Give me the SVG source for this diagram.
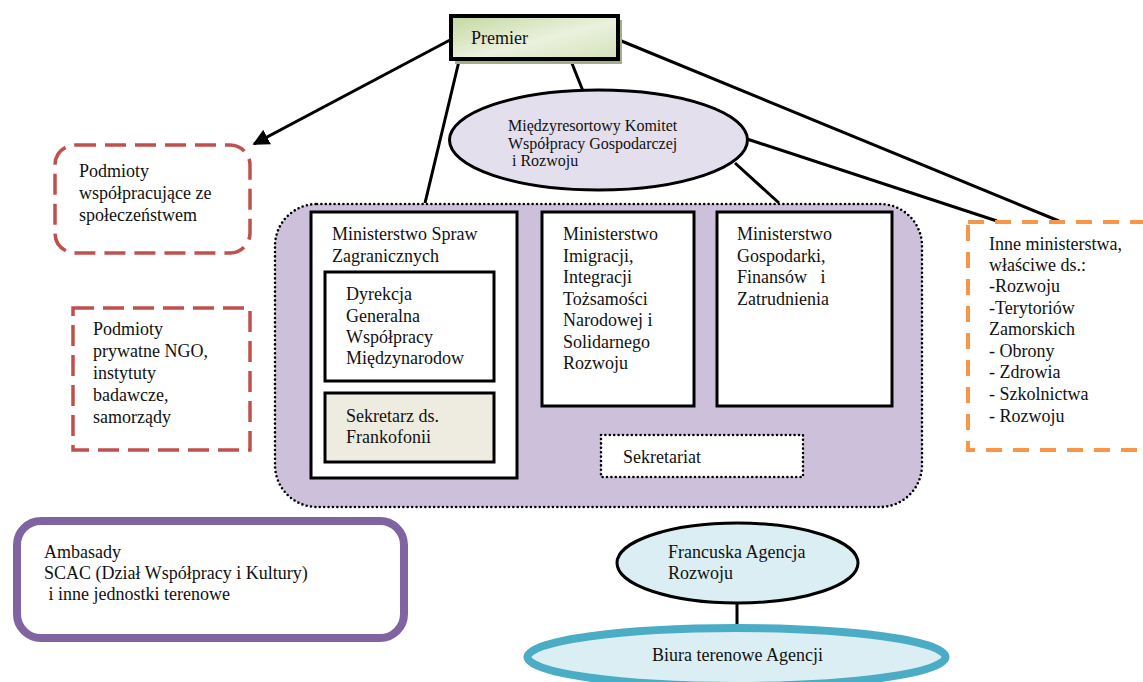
<svg xmlns="http://www.w3.org/2000/svg" width="1143" height="682" viewBox="0 0 1143 682">
<style>
text{font-family:"Liberation Serif","Times New Roman",serif;font-size:18px;fill:#111}
.sm{font-size:16px}
.conn line{stroke:#000;stroke-width:3;fill:none}
.box{fill:#fff;stroke:#000;stroke-width:3}
.red{fill:#fff;stroke:#c0504d;stroke-width:3.5;stroke-dasharray:21 9}
.dot{stroke:#000;stroke-width:2.6;stroke-dasharray:0 4.4;stroke-linecap:round}
</style>
<defs>
<linearGradient id="pg" x1="0" y1="0" x2="1" y2="1">
<stop offset="0" stop-color="#c4d89f"/>
<stop offset="0.55" stop-color="#ebf1de"/>
<stop offset="1" stop-color="#d3e2b8"/>
</linearGradient>
<marker id="arr" viewBox="0 0 10 10" refX="9" refY="5" markerWidth="5.5" markerHeight="5.5" orient="auto" markerUnits="strokeWidth">
<path d="M0,0 L10,5 L0,10 z" fill="#000"/>
</marker>
</defs>

<g id="purple-group">
<rect x="275" y="204" width="647" height="303" rx="42" fill="#ccc0da" class="dot"/>
</g>

<g class="conn" id="connectors">
<line x1="450" y1="40" x2="254" y2="144" marker-end="url(#arr)"/>
<line x1="459" y1="61" x2="425" y2="203"/>
<line x1="571" y1="61" x2="583" y2="91"/>
<line x1="619" y1="40" x2="1059" y2="221"/>
<line x1="747" y1="139" x2="997" y2="221"/>
<line x1="735" y1="163" x2="779" y2="203"/>
<line x1="737" y1="604" x2="737" y2="628"/>
</g>

<g id="premier">
<rect x="455" y="20" width="167" height="44" fill="#a3ad88"/>
<rect x="451" y="16" width="167" height="43" fill="url(#pg)" stroke="#000" stroke-width="4"/>
<text x="471" y="44">Premier</text>
</g>

<g id="komitet">
<ellipse cx="598.5" cy="140" rx="149" ry="50" fill="#e4dfec" stroke="#000" stroke-width="3"/>
<text class="sm" x="508" y="131">Międzyresortowy Komitet</text>
<text class="sm" x="508" y="149">Współpracy Gospodarczej</text>
<text class="sm" x="508" y="166" xml:space="preserve"> i Rozwoju</text>
</g>

<g id="podmioty-spol">
<rect x="55" y="145" width="195" height="108" rx="20" class="red"/>
<text x="79" y="177">Podmioty</text>
<text x="79" y="199">współpracujące ze</text>
<text x="79" y="221">społeczeństwem</text>
</g>

<g id="podmioty-ngo">
<rect x="73" y="308" width="177" height="142" class="red"/>
<text x="93" y="335">Podmioty</text>
<text x="93" y="357">prywatne NGO,</text>
<text x="93" y="379">instytuty</text>
<text x="93" y="401">badawcze,</text>
<text x="93" y="423">samorządy</text>
</g>

<g id="msz">
<rect x="311" y="212" width="206" height="266" class="box"/>
<text x="332" y="240">Ministerstwo Spraw</text>
<text x="332" y="262">Zagranicznych</text>
</g>

<g id="dyrekcja">
<rect x="325" y="272" width="169" height="109" class="box"/>
<text x="346" y="300">Dyrekcja</text>
<text x="346" y="322">Generalna</text>
<text x="346" y="343">Współpracy</text>
<text x="346" y="364">Międzynarodow</text>
</g>

<g id="sekretarz">
<rect x="325" y="393" width="169" height="69" fill="#eeece1" stroke="#000" stroke-width="3"/>
<text x="346" y="422">Sekretarz ds.</text>
<text x="346" y="443">Frankofonii</text>
</g>

<g id="imigracji">
<rect x="542" y="212" width="152" height="194" class="box"/>
<text x="563" y="240">Ministerstwo</text>
<text x="563" y="262">Imigracji,</text>
<text x="563" y="283">Integracji</text>
<text x="563" y="305">Tożsamości</text>
<text x="563" y="326">Narodowej i</text>
<text x="563" y="348">Solidarnego</text>
<text x="563" y="369">Rozwoju</text>
</g>

<g id="gospodarki">
<rect x="717" y="212" width="175" height="194" class="box"/>
<text x="737" y="240">Ministerstwo</text>
<text x="737" y="262">Gospodarki,</text>
<text x="737" y="283" xml:space="preserve">Finansów   i</text>
<text x="737" y="305">Zatrudnienia</text>
</g>

<g id="sekretariat">
<rect x="601" y="435" width="202" height="42" fill="#fff" class="dot"/>
<text x="623" y="463">Sekretariat</text>
</g>

<g id="inne">
<rect x="968" y="222" width="200" height="228" fill="#fff" stroke="#f79646" stroke-width="4" stroke-dasharray="16 11"/>
<text x="989" y="250">Inne ministerstwa,</text>
<text x="989" y="271">właściwe ds.:</text>
<text x="989" y="292">-Rozwoju</text>
<text x="989" y="314">-Terytoriów</text>
<text x="989" y="335">Zamorskich</text>
<text x="989" y="357">- Obrony</text>
<text x="989" y="378">- Zdrowia</text>
<text x="989" y="400">- Szkolnictwa</text>
<text x="989" y="422">- Rozwoju</text>
</g>

<g id="ambasady">
<rect x="17" y="521" width="387" height="117" rx="24" fill="#fff" stroke="#8064a2" stroke-width="8"/>
<text x="44" y="558">Ambasady</text>
<text x="44" y="579">SCAC (Dział Współpracy i Kultury)</text>
<text x="44" y="600" xml:space="preserve"> i inne jednostki terenowe</text>
</g>

<g id="afd">
<ellipse cx="737.5" cy="563" rx="120.5" ry="40" fill="#daeef3" stroke="#000" stroke-width="3"/>
<text x="668" y="558">Francuska Agencja</text>
<text x="668" y="579">Rozwoju</text>
</g>

<g id="biura">
<ellipse cx="736.5" cy="657" rx="209" ry="29" fill="#daeef3" stroke="#4bacc6" stroke-width="8"/>
<text x="652" y="661">Biura terenowe Agencji</text>
</g>
</svg>
